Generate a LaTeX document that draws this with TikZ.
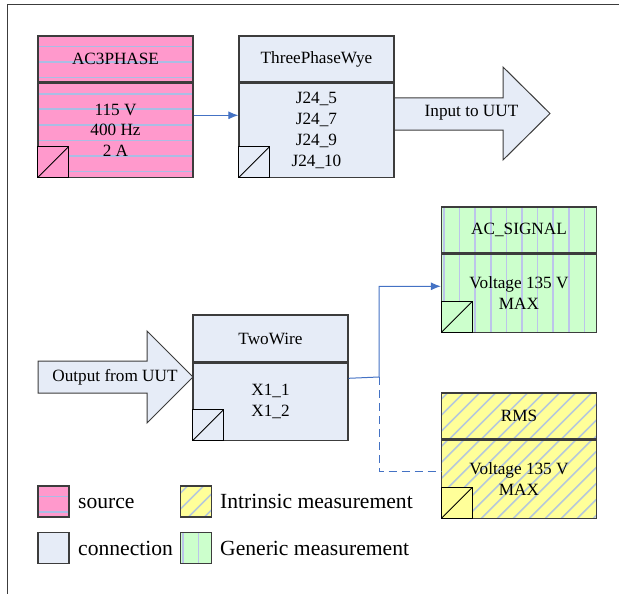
\documentclass[tikz,border=0pt]{standalone}
\usepackage{fontspec}
\setmainfont{Liberation Serif}
\usetikzlibrary{positioning,arrows.meta}
\definecolor{srcpink}{HTML}{FF99CC}
\definecolor{srcline}{HTML}{AABDE4}
\definecolor{connblue}{HTML}{E6ECF7}
\definecolor{genfill}{HTML}{CCFFCC}
\definecolor{genline}{HTML}{BCC4EA}
\definecolor{intfill}{HTML}{FFFF99}
\definecolor{intline}{HTML}{B6C8DA}
\definecolor{edge}{HTML}{3C3C3C}
\definecolor{wire}{HTML}{4472C4}
\newcommand{\boxfont}{\fontsize{17.2}{20.8}\selectfont}
\newcommand{\keyfont}{\fontsize{21.6}{24}\selectfont}
\tikzset{
  block/.style={draw=edge, line width=1.3pt, minimum width=155pt, align=center, font=\boxfont, inner sep=2pt},
  hstripes/.style={path picture={\foreach \k in {10.5,26,...,110}
      \draw[#1, line width=1.6pt] ([yshift=-\k pt]path picture bounding box.north west) -- ([yshift=-\k pt]path picture bounding box.north east);}},
  vstripes/.style={path picture={\foreach \k in {2.5,18.1,...,170}
      \draw[#1, line width=1.6pt] ([xshift=\k pt]path picture bounding box.north west) -- ([xshift=\k pt]path picture bounding box.south west);}},
  dstripes/.style={path picture={\foreach \k in {-120,-104,...,170}
      \draw[#1, line width=1.6pt] ([xshift=\k pt]path picture bounding box.south west) -- ++(200pt,200pt);}},
  srcbox/.style={block, fill=srcpink, hstripes=srcline},
  connbox/.style={block, fill=connblue},
  genbox/.style={block, fill=genfill, vstripes=genline},
  intbox/.style={block, fill=intfill, dstripes=intline},
  cornerbox/.style={draw=black, line width=0.8pt, minimum size=31pt, inner sep=0pt, fill=#1, anchor=south west,
      path picture={\draw[line width=0.8pt] (path picture bounding box.south west) -- (path picture bounding box.north east);}},
  keybox/.style={minimum width=31pt, minimum height=31pt, inner sep=0pt},
  keytext/.style={font=\keyfont, inner sep=0pt, anchor=base west},
  bigarrow/.style={draw=edge, line width=1pt, fill=connblue},
  link/.style={draw=wire, line width=1pt},
  frame/.style={draw=edge, line width=1pt}
}
\begin{document}
\begin{tikzpicture}[x=1pt,y=-1pt]
\useasboundingbox (0,0) rectangle (619,594);
\draw[frame] (619,5) -- (7,5) -- (7,594);

\filldraw[bigarrow] (394,98) -- (503,98) -- (503,67) -- (550,113.5) -- (503,160) -- (503,130) -- (394,130) -- cycle;
\node[font=\boxfont] (inlabel) at (471.5,113) {Input to UUT};
\filldraw[bigarrow] (38,361) -- (147,361) -- (147,331) -- (193,377) -- (147,423) -- (147,393) -- (38,393) -- cycle;
\node[font=\boxfont] (outlabel) at (115,377) {Output from UUT};

\node[srcbox, minimum height=46pt] (ac3) at (115.5,59) {AC3PHASE};
\node[srcbox, minimum height=94pt, below=0pt of ac3] (ac3body) {115 V\\400 Hz\\2 A};
\node[cornerbox=srcpink] (ac3sq) at (ac3body.south west) {};

\node[connbox, minimum height=46pt] (wye) at (316.5,59) {ThreePhaseWye};
\node[connbox, minimum height=94pt, below=0pt of wye] (wyebody) {J24\_5\\J24\_7\\J24\_9\\J24\_10};
\node[cornerbox=connblue] (wyesq) at (wyebody.south west) {};

\node[connbox, minimum height=47pt] (two) at (270.5,338.5) {TwoWire};
\node[connbox, minimum height=77pt, below=0pt of two] (twobody) {X1\_1\\X1\_2};
\node[cornerbox=connblue] (twosq) at (twobody.south west) {};

\node[genbox, minimum height=46pt] (acsig) at (519,230) {AC\_SIGNAL};
\node[genbox, minimum height=78pt, below=0pt of acsig] (acsigbody) {Voltage 135 V\\MAX};
\node[cornerbox=genfill] (acsigsq) at (acsigbody.south west) {};

\node[intbox, minimum height=46pt] (rms) at (519,416) {RMS};
\node[intbox, minimum height=78pt, below=0pt of rms] (rmsbody) {Voltage 135 V\\MAX};
\node[cornerbox=intfill] (rmssq) at (rmsbody.south west) {};

\draw[link, -{Latex[length=10pt,width=8pt]}] ([yshift=15pt]ac3body.east) -- ([yshift=15pt]wyebody.west);
\coordinate (split) at (379,377);
\draw[link, -{Latex[length=10pt,width=8pt]}] ([yshift=23.5pt]twobody.east) -- (split) |- ([yshift=7pt]acsigbody.west);
\draw[link, dash pattern=on 8pt off 5pt] (split) |- ([yshift=8pt]rmsbody.west);

\node[srcbox, keybox] (keysrc) at (53.5,501.5) {};
\node[connbox, keybox] (keyconn) at (53.5,548) {};
\node[intbox, keybox] (keyint) at (196,501.5) {};
\node[genbox, keybox] (keygen) at (196,548) {};
\node[keytext] (srctext) at (78,508) {source};
\node[keytext] (conntext) at (78,555) {connection};
\node[keytext] (inttext) at (220,508) {Intrinsic measurement};
\node[keytext] (gentext) at (220,555) {Generic measurement};
\end{tikzpicture}
\end{document}
